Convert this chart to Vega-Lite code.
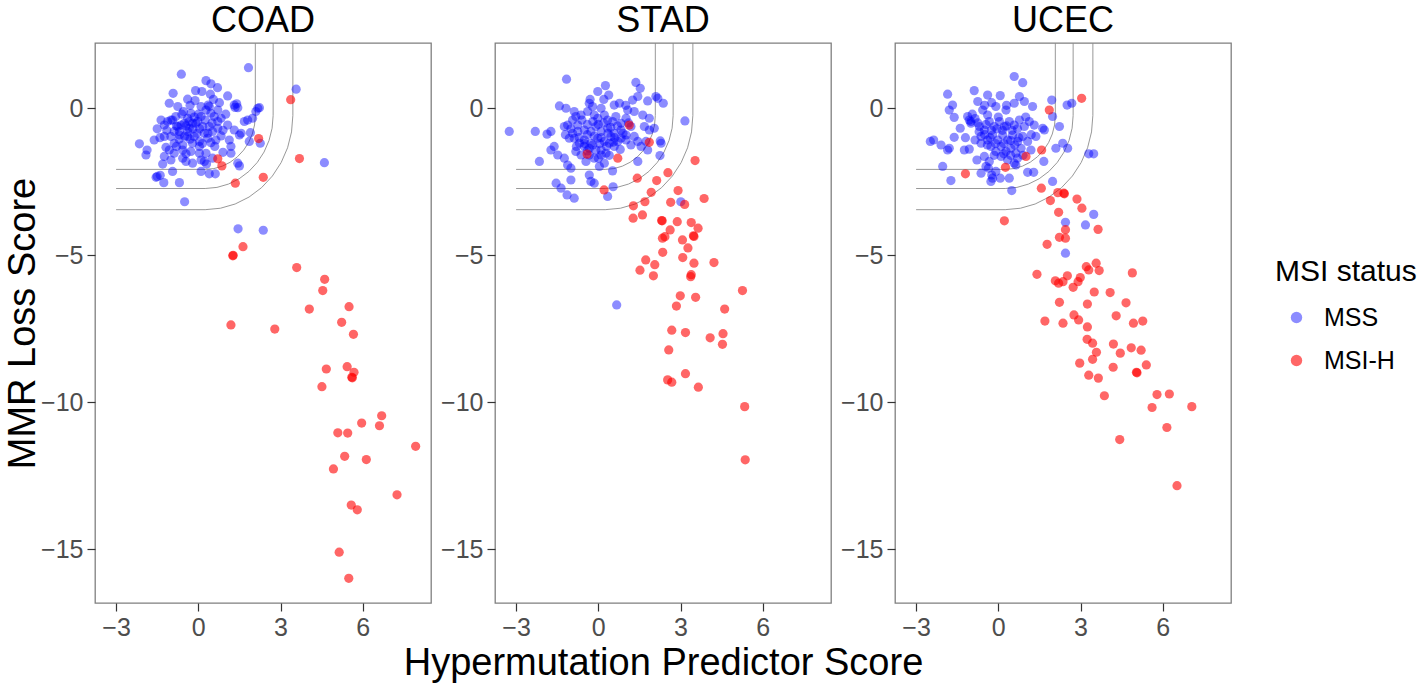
{
"$schema": "https://vega.github.io/schema/vega-lite/v6.json",
"autosize": {"type": "pad"},
"padding": {"left": 3, "top": 2, "right": 0, "bottom": 0},
"background": "white",
"bounds": "flush",
"spacing": 64,
"config": {
  "font": "Liberation Sans",
  "view": {"stroke": "#7F7F7F", "strokeWidth": 1.3},
  "axis": {"grid": false, "domain": false, "tickColor": "#333333", "tickSize": 8, "tickWidth": 1.2, "labelFontSize": 25, "labelColor": "#4D4D4D", "labelPadding": 4, "titleFontSize": 38, "titleFontWeight": "normal", "titleColor": "#000000"},
  "title": {"fontSize": 36, "fontWeight": "normal", "color": "#000000", "baseline": "alphabetic", "offset": 3, "anchor": "middle"},
  "legend": {"titleFontSize": 30, "titleFontWeight": "normal", "titleColor": "#000000", "labelFontSize": 25, "labelColor": "#000000", "symbolType": "circle", "symbolSize": 130, "rowPadding": 17, "titlePadding": 18, "labelOffset": 15, "symbolOffset": 9, "symbolStrokeWidth": 0}
},
"datasets": {
"curves": [
{"curve":1,"ord":0,"x":-3,"y":-2.08},{"curve":1,"ord":1,"x":0.25,"y":-2.08},{"curve":1,"ord":2,"x":0.568,"y":-2.052},{"curve":1,"ord":3,"x":0.876,"y":-1.97},{"curve":1,"ord":4,"x":1.165,"y":-1.835},{"curve":1,"ord":5,"x":1.426,"y":-1.652},{"curve":1,"ord":6,"x":1.652,"y":-1.426},{"curve":1,"ord":7,"x":1.835,"y":-1.165},{"curve":1,"ord":8,"x":1.97,"y":-0.876},{"curve":1,"ord":9,"x":2.052,"y":-0.568},{"curve":1,"ord":10,"x":2.08,"y":-0.25},{"curve":1,"ord":11,"x":2.08,"y":2.22},
{"curve":2,"ord":0,"x":-3,"y":-2.73},{"curve":2,"ord":1,"x":0.25,"y":-2.73},{"curve":2,"ord":2,"x":0.68,"y":-2.692},{"curve":2,"ord":3,"x":1.098,"y":-2.58},{"curve":2,"ord":4,"x":1.49,"y":-2.398},{"curve":2,"ord":5,"x":1.844,"y":-2.15},{"curve":2,"ord":6,"x":2.15,"y":-1.844},{"curve":2,"ord":7,"x":2.398,"y":-1.49},{"curve":2,"ord":8,"x":2.58,"y":-1.098},{"curve":2,"ord":9,"x":2.692,"y":-0.68},{"curve":2,"ord":10,"x":2.73,"y":-0.25},{"curve":2,"ord":11,"x":2.73,"y":2.22},
{"curve":3,"ord":0,"x":-3,"y":-3.45},{"curve":3,"ord":1,"x":0.25,"y":-3.45},{"curve":3,"ord":2,"x":0.806,"y":-3.401},{"curve":3,"ord":3,"x":1.344,"y":-3.257},{"curve":3,"ord":4,"x":1.85,"y":-3.021},{"curve":3,"ord":5,"x":2.307,"y":-2.701},{"curve":3,"ord":6,"x":2.701,"y":-2.307},{"curve":3,"ord":7,"x":3.021,"y":-1.85},{"curve":3,"ord":8,"x":3.257,"y":-1.344},{"curve":3,"ord":9,"x":3.401,"y":-0.806},{"curve":3,"ord":10,"x":3.45,"y":-0.25},{"curve":3,"ord":11,"x":3.45,"y":2.22}
],
"pts": [
{"panel":"COAD","status":"MSS","x":1.83,"y":1.38},{"panel":"COAD","status":"MSS","x":-0.62,"y":1.16},{"panel":"COAD","status":"MSS","x":3.57,"y":0.65},{"panel":"COAD","status":"MSS","x":2.26,"y":-1.19},{"panel":"COAD","status":"MSS","x":4.6,"y":-1.85},{"panel":"COAD","status":"MSS","x":-0.5,"y":-3.18},{"panel":"COAD","status":"MSS","x":1.45,"y":-4.1},{"panel":"COAD","status":"MSS","x":2.37,"y":-4.15},
{"panel":"COAD","status":"MSS","x":0.28,"y":0.94},{"panel":"COAD","status":"MSS","x":0.46,"y":0.83},{"panel":"COAD","status":"MSS","x":-0.92,"y":0.51},{"panel":"COAD","status":"MSS","x":0.13,"y":0.57},{"panel":"COAD","status":"MSS","x":0.44,"y":0.48},{"panel":"COAD","status":"MSS","x":1.07,"y":0.42},{"panel":"COAD","status":"MSS","x":-0.39,"y":0.31},{"panel":"COAD","status":"MSS","x":-0.12,"y":0.26},{"panel":"COAD","status":"MSS","x":-1.06,"y":0.17},{"panel":"COAD","status":"MSS","x":-0.75,"y":0.06},{"panel":"COAD","status":"MSS","x":0.36,"y":0.11},{"panel":"COAD","status":"MSS","x":0.1,"y":0.06},{"panel":"COAD","status":"MSS","x":0.77,"y":0.19},{"panel":"COAD","status":"MSS","x":1.31,"y":0.11},{"panel":"COAD","status":"MSS","x":1.44,"y":0.02},{"panel":"COAD","status":"MSS","x":2.17,"y":0.0},{"panel":"COAD","status":"MSS","x":2.1,"y":-0.11},{"panel":"COAD","status":"MSS","x":-0.54,"y":-0.11},{"panel":"COAD","status":"MSS","x":-0.27,"y":-0.17},{"panel":"COAD","status":"MSS","x":0.46,"y":-0.17},{"panel":"COAD","status":"MSS","x":0.71,"y":-0.06},{"panel":"COAD","status":"MSS","x":-1.36,"y":-0.4},{"panel":"COAD","status":"MSS","x":-1.24,"y":-0.57},{"panel":"COAD","status":"MSS","x":-1.0,"y":-0.4},{"panel":"COAD","status":"MSS","x":-0.82,"y":-0.28},{"panel":"COAD","status":"MSS","x":-0.63,"y":-0.57},{"panel":"COAD","status":"MSS","x":-0.33,"y":-0.45},{"panel":"COAD","status":"MSS","x":-0.09,"y":-0.51},{"panel":"COAD","status":"MSS","x":0.16,"y":-0.62},{"panel":"COAD","status":"MSS","x":0.4,"y":-0.62},{"panel":"COAD","status":"MSS","x":0.71,"y":-0.68},{"panel":"COAD","status":"MSS","x":1.07,"y":-0.57},{"panel":"COAD","status":"MSS","x":1.31,"y":-0.74},{"panel":"COAD","status":"MSS","x":1.56,"y":-0.85},{"panel":"COAD","status":"MSS","x":1.68,"y":-0.45},{"panel":"COAD","status":"MSS","x":1.8,"y":-0.4},{"panel":"COAD","status":"MSS","x":1.98,"y":-0.34},{"panel":"COAD","status":"MSS","x":1.9,"y":-0.83},{"panel":"COAD","status":"MSS","x":-1.61,"y":-1.08},{"panel":"COAD","status":"MSS","x":-2.15,"y":-1.21},{"panel":"COAD","status":"MSS","x":-1.87,"y":-1.42},{"panel":"COAD","status":"MSS","x":-1.91,"y":-1.59},{"panel":"COAD","status":"MSS","x":-1.24,"y":-0.96},{"panel":"COAD","status":"MSS","x":-1.18,"y":-1.33},{"panel":"COAD","status":"MSS","x":-0.88,"y":-1.19},{"panel":"COAD","status":"MSS","x":-0.69,"y":-0.91},{"panel":"COAD","status":"MSS","x":-0.57,"y":-1.25},{"panel":"COAD","status":"MSS","x":-0.39,"y":-0.96},{"panel":"COAD","status":"MSS","x":-0.21,"y":-1.19},{"panel":"COAD","status":"MSS","x":0.04,"y":-1.13},{"panel":"COAD","status":"MSS","x":0.04,"y":-1.3},{"panel":"COAD","status":"MSS","x":0.34,"y":-1.02},{"panel":"COAD","status":"MSS","x":0.46,"y":-1.17},{"panel":"COAD","status":"MSS","x":0.64,"y":-1.08},{"panel":"COAD","status":"MSS","x":0.83,"y":-0.94},{"panel":"COAD","status":"MSS","x":1.13,"y":-1.08},{"panel":"COAD","status":"MSS","x":1.19,"y":-1.3},{"panel":"COAD","status":"MSS","x":1.5,"y":-0.91},{"panel":"COAD","status":"MSS","x":1.86,"y":-1.13},{"panel":"COAD","status":"MSS","x":-1.24,"y":-1.64},{"panel":"COAD","status":"MSS","x":-1.0,"y":-1.76},{"panel":"COAD","status":"MSS","x":-0.88,"y":-1.53},{"panel":"COAD","status":"MSS","x":-0.57,"y":-1.7},{"panel":"COAD","status":"MSS","x":-0.45,"y":-1.81},{"panel":"COAD","status":"MSS","x":-0.21,"y":-1.87},{"panel":"COAD","status":"MSS","x":0.1,"y":-1.76},{"panel":"COAD","status":"MSS","x":0.28,"y":-1.53},{"panel":"COAD","status":"MSS","x":0.22,"y":-1.81},{"panel":"COAD","status":"MSS","x":0.52,"y":-1.7},{"panel":"COAD","status":"MSS","x":0.1,"y":-2.15},{"panel":"COAD","status":"MSS","x":0.4,"y":-2.23},{"panel":"COAD","status":"MSS","x":1.44,"y":-1.87},{"panel":"COAD","status":"MSS","x":1.5,"y":-1.96},{"panel":"COAD","status":"MSS","x":-1.5,"y":-2.32},{"panel":"COAD","status":"MSS","x":-1.39,"y":-2.28},{"panel":"COAD","status":"MSS","x":-1.26,"y":-2.53},{"panel":"COAD","status":"MSS","x":-0.94,"y":-2.15},{"panel":"COAD","status":"MSS","x":-0.69,"y":-2.53},{"panel":"COAD","status":"MSS","x":-1.12,"y":-0.45},{"panel":"COAD","status":"MSS","x":-0.94,"y":-0.4},{"panel":"COAD","status":"MSS","x":-0.75,"y":-0.62},{"panel":"COAD","status":"MSS","x":-0.51,"y":-0.51},{"panel":"COAD","status":"MSS","x":-0.39,"y":-0.34},{"panel":"COAD","status":"MSS","x":-0.21,"y":-0.51},{"panel":"COAD","status":"MSS","x":-0.02,"y":-0.45},{"panel":"COAD","status":"MSS","x":0.1,"y":-0.28},{"panel":"COAD","status":"MSS","x":0.28,"y":-0.06},{"panel":"COAD","status":"MSS","x":0.4,"y":0.06},{"panel":"COAD","status":"MSS","x":0.58,"y":-0.28},{"panel":"COAD","status":"MSS","x":0.71,"y":-0.45},{"panel":"COAD","status":"MSS","x":0.83,"y":-0.34},{"panel":"COAD","status":"MSS","x":-0.33,"y":-0.68},{"panel":"COAD","status":"MSS","x":-0.69,"y":-0.79},{"panel":"COAD","status":"MSS","x":-0.88,"y":-0.79},{"panel":"COAD","status":"MSS","x":-1.0,"y":-0.96},{"panel":"COAD","status":"MSS","x":-0.39,"y":-0.79},{"panel":"COAD","status":"MSS","x":-0.15,"y":-0.96},{"panel":"COAD","status":"MSS","x":0.22,"y":-0.85},{"panel":"COAD","status":"MSS","x":0.52,"y":-0.79},{"panel":"COAD","status":"MSS","x":-1.06,"y":-1.42},{"panel":"COAD","status":"MSS","x":-0.57,"y":-1.42},{"panel":"COAD","status":"MSS","x":-0.27,"y":-1.47},{"panel":"COAD","status":"MSS","x":0.04,"y":-1.53},{"panel":"COAD","status":"MSS","x":-1.54,"y":-2.35},{"panel":"COAD","status":"MSS","x":0.62,"y":-2.23},{"panel":"COAD","status":"MSS","x":1.19,"y":-1.53},{"panel":"COAD","status":"MSS","x":2.23,"y":0.02},{"panel":"COAD","status":"MSS","x":1.4,"y":0.15},{"panel":"COAD","status":"MSS","x":1.34,"y":0.03},
{"panel":"COAD","status":"MSS","x":-0.6,"y":-0.2},{"panel":"COAD","status":"MSS","x":-0.45,"y":-0.6},{"panel":"COAD","status":"MSS","x":-0.15,"y":-0.3},{"panel":"COAD","status":"MSS","x":0.05,"y":-0.7},{"panel":"COAD","status":"MSS","x":0.25,"y":-0.4},{"panel":"COAD","status":"MSS","x":0.5,"y":-0.5},{"panel":"COAD","status":"MSS","x":-0.8,"y":-0.6},{"panel":"COAD","status":"MSS","x":-0.3,"y":-1.05},{"panel":"COAD","status":"MSS","x":0.15,"y":-1.2},{"panel":"COAD","status":"MSS","x":0.6,"y":-1.3},{"panel":"COAD","status":"MSS","x":-0.7,"y":-1.05},{"panel":"COAD","status":"MSS","x":-1.15,"y":-0.75},{"panel":"COAD","status":"MSS","x":-0.05,"y":-0.85},{"panel":"COAD","status":"MSS","x":0.35,"y":-0.85},{"panel":"COAD","status":"MSS","x":0.9,"y":-0.75},{"panel":"COAD","status":"MSS","x":-0.5,"y":-0.95},{"panel":"COAD","status":"MSS","x":-0.2,"y":-0.7},{"panel":"COAD","status":"MSS","x":0.0,"y":-0.2},{"panel":"COAD","status":"MSS","x":-0.3,"y":0.1},{"panel":"COAD","status":"MSS","x":0.55,"y":0.3},{"panel":"COAD","status":"MSS","x":-0.8,"y":-1.3},{"panel":"COAD","status":"MSS","x":-0.45,"y":-1.55},{"panel":"COAD","status":"MSS","x":0.3,"y":-1.9},{"panel":"COAD","status":"MSS","x":-1.4,"y":-1.0},{"panel":"COAD","status":"MSS","x":-1.5,"y":-0.7},{"panel":"COAD","status":"MSS","x":0.9,"y":-1.5},{"panel":"COAD","status":"MSS","x":1.0,"y":-0.2},{"panel":"COAD","status":"MSS","x":-0.1,"y":0.6},{"panel":"COAD","status":"MSS","x":0.7,"y":0.7},{"panel":"COAD","status":"MSS","x":-1.3,"y":-1.9},
{"panel":"COAD","status":"MSI-H","x":3.37,"y":0.29},{"panel":"COAD","status":"MSI-H","x":2.2,"y":-1.03},{"panel":"COAD","status":"MSI-H","x":0.71,"y":-1.72},{"panel":"COAD","status":"MSI-H","x":0.86,"y":-1.96},{"panel":"COAD","status":"MSI-H","x":3.69,"y":-1.71},{"panel":"COAD","status":"MSI-H","x":1.35,"y":-2.55},{"panel":"COAD","status":"MSI-H","x":2.37,"y":-2.35},{"panel":"COAD","status":"MSI-H","x":1.63,"y":-4.71},{"panel":"COAD","status":"MSI-H","x":1.26,"y":-5.02},{"panel":"COAD","status":"MSI-H","x":1.27,"y":-5.0},{"panel":"COAD","status":"MSI-H","x":3.59,"y":-5.42},{"panel":"COAD","status":"MSI-H","x":4.61,"y":-5.82},{"panel":"COAD","status":"MSI-H","x":4.54,"y":-6.2},{"panel":"COAD","status":"MSI-H","x":4.05,"y":-6.83},{"panel":"COAD","status":"MSI-H","x":5.5,"y":-6.75},{"panel":"COAD","status":"MSI-H","x":5.23,"y":-7.28},{"panel":"COAD","status":"MSI-H","x":5.66,"y":-7.69},{"panel":"COAD","status":"MSI-H","x":1.19,"y":-7.37},{"panel":"COAD","status":"MSI-H","x":2.79,"y":-7.51},{"panel":"COAD","status":"MSI-H","x":4.67,"y":-8.87},{"panel":"COAD","status":"MSI-H","x":5.43,"y":-8.79},{"panel":"COAD","status":"MSI-H","x":5.68,"y":-8.98},{"panel":"COAD","status":"MSI-H","x":5.6,"y":-9.15},{"panel":"COAD","status":"MSI-H","x":5.62,"y":-9.17},{"panel":"COAD","status":"MSI-H","x":4.51,"y":-9.47},{"panel":"COAD","status":"MSI-H","x":6.69,"y":-10.46},{"panel":"COAD","status":"MSI-H","x":5.96,"y":-10.71},{"panel":"COAD","status":"MSI-H","x":6.61,"y":-10.8},{"panel":"COAD","status":"MSI-H","x":5.09,"y":-11.04},{"panel":"COAD","status":"MSI-H","x":5.45,"y":-11.05},{"panel":"COAD","status":"MSI-H","x":7.93,"y":-11.5},{"panel":"COAD","status":"MSI-H","x":5.34,"y":-11.84},{"panel":"COAD","status":"MSI-H","x":6.13,"y":-11.95},{"panel":"COAD","status":"MSI-H","x":4.93,"y":-12.27},{"panel":"COAD","status":"MSI-H","x":7.25,"y":-13.15},{"panel":"COAD","status":"MSI-H","x":5.58,"y":-13.5},{"panel":"COAD","status":"MSI-H","x":5.8,"y":-13.66},{"panel":"COAD","status":"MSI-H","x":5.14,"y":-15.1},{"panel":"COAD","status":"MSI-H","x":5.49,"y":-15.99},
{"panel":"STAD","status":"MSS","x":-1.16,"y":0.99},{"panel":"STAD","status":"MSS","x":0.26,"y":0.77},{"panel":"STAD","status":"MSS","x":-0.02,"y":0.57},{"panel":"STAD","status":"MSS","x":0.38,"y":0.45},{"panel":"STAD","status":"MSS","x":1.37,"y":0.88},{"panel":"STAD","status":"MSS","x":1.53,"y":0.68},{"panel":"STAD","status":"MSS","x":1.25,"y":0.28},{"panel":"STAD","status":"MSS","x":1.44,"y":0.4},{"panel":"STAD","status":"MSS","x":1.8,"y":0.25},{"panel":"STAD","status":"MSS","x":2.1,"y":0.4},{"panel":"STAD","status":"MSS","x":2.17,"y":0.34},{"panel":"STAD","status":"MSS","x":2.37,"y":0.17},{"panel":"STAD","status":"MSS","x":-1.42,"y":0.08},{"panel":"STAD","status":"MSS","x":-1.18,"y":0.0},{"panel":"STAD","status":"MSS","x":-0.88,"y":-0.11},{"panel":"STAD","status":"MSS","x":-0.33,"y":0.17},{"panel":"STAD","status":"MSS","x":-0.21,"y":0.06},{"panel":"STAD","status":"MSS","x":0.1,"y":0.0},{"panel":"STAD","status":"MSS","x":0.58,"y":0.11},{"panel":"STAD","status":"MSS","x":0.77,"y":0.17},{"panel":"STAD","status":"MSS","x":1.07,"y":-0.06},{"panel":"STAD","status":"MSS","x":1.31,"y":-0.11},{"panel":"STAD","status":"MSS","x":1.62,"y":-0.23},{"panel":"STAD","status":"MSS","x":1.86,"y":-0.34},{"panel":"STAD","status":"MSS","x":1.68,"y":-0.62},{"panel":"STAD","status":"MSS","x":1.86,"y":-0.74},{"panel":"STAD","status":"MSS","x":2.04,"y":-0.68},{"panel":"STAD","status":"MSS","x":2.26,"y":-1.11},{"panel":"STAD","status":"MSS","x":3.16,"y":-0.43},{"panel":"STAD","status":"MSS","x":-3.25,"y":-0.79},{"panel":"STAD","status":"MSS","x":-2.3,"y":-0.79},{"panel":"STAD","status":"MSS","x":-1.87,"y":-0.88},{"panel":"STAD","status":"MSS","x":-1.73,"y":-0.79},{"panel":"STAD","status":"MSS","x":-1.24,"y":-0.62},{"panel":"STAD","status":"MSS","x":-1.12,"y":-0.57},{"panel":"STAD","status":"MSS","x":-0.94,"y":-0.4},{"panel":"STAD","status":"MSS","x":-0.82,"y":-0.28},{"panel":"STAD","status":"MSS","x":-0.63,"y":-0.23},{"panel":"STAD","status":"MSS","x":-0.39,"y":-0.11},{"panel":"STAD","status":"MSS","x":-0.15,"y":-0.23},{"panel":"STAD","status":"MSS","x":-0.02,"y":-0.34},{"panel":"STAD","status":"MSS","x":0.22,"y":-0.23},{"panel":"STAD","status":"MSS","x":0.34,"y":-0.4},{"panel":"STAD","status":"MSS","x":0.52,"y":-0.45},{"panel":"STAD","status":"MSS","x":0.64,"y":-0.28},{"panel":"STAD","status":"MSS","x":0.83,"y":-0.51},{"panel":"STAD","status":"MSS","x":1.01,"y":-0.34},{"panel":"STAD","status":"MSS","x":1.19,"y":-0.62},{"panel":"STAD","status":"MSS","x":1.31,"y":-0.96},{"panel":"STAD","status":"MSS","x":1.44,"y":-1.13},{"panel":"STAD","status":"MSS","x":1.56,"y":-1.3},{"panel":"STAD","status":"MSS","x":-1.73,"y":-1.42},{"panel":"STAD","status":"MSS","x":-1.61,"y":-1.3},{"panel":"STAD","status":"MSS","x":-2.15,"y":-1.81},{"panel":"STAD","status":"MSS","x":-1.48,"y":-1.59},{"panel":"STAD","status":"MSS","x":-1.24,"y":-1.7},{"panel":"STAD","status":"MSS","x":-1.12,"y":-1.93},{"panel":"STAD","status":"MSS","x":-1.0,"y":-2.04},{"panel":"STAD","status":"MSS","x":-0.88,"y":-1.02},{"panel":"STAD","status":"MSS","x":-0.69,"y":-1.19},{"panel":"STAD","status":"MSS","x":-0.51,"y":-1.3},{"panel":"STAD","status":"MSS","x":-0.82,"y":-1.47},{"panel":"STAD","status":"MSS","x":-0.45,"y":-1.81},{"panel":"STAD","status":"MSS","x":-0.33,"y":-1.59},{"panel":"STAD","status":"MSS","x":-0.15,"y":-1.7},{"panel":"STAD","status":"MSS","x":0.1,"y":-1.42},{"panel":"STAD","status":"MSS","x":0.28,"y":-1.53},{"panel":"STAD","status":"MSS","x":0.04,"y":-1.98},{"panel":"STAD","status":"MSS","x":0.22,"y":-1.87},{"panel":"STAD","status":"MSS","x":0.52,"y":-2.13},{"panel":"STAD","status":"MSS","x":0.4,"y":-1.19},{"panel":"STAD","status":"MSS","x":0.58,"y":-1.3},{"panel":"STAD","status":"MSS","x":0.83,"y":-1.02},{"panel":"STAD","status":"MSS","x":1.01,"y":-1.08},{"panel":"STAD","status":"MSS","x":1.19,"y":-1.25},{"panel":"STAD","status":"MSS","x":1.44,"y":-1.81},{"panel":"STAD","status":"MSS","x":1.8,"y":-1.42},{"panel":"STAD","status":"MSS","x":1.74,"y":-1.13},{"panel":"STAD","status":"MSS","x":2.25,"y":-1.61},{"panel":"STAD","status":"MSS","x":2.29,"y":-1.19},{"panel":"STAD","status":"MSS","x":-1.54,"y":-2.55},{"panel":"STAD","status":"MSS","x":-1.36,"y":-2.72},{"panel":"STAD","status":"MSS","x":-1.14,"y":-2.95},{"panel":"STAD","status":"MSS","x":-0.88,"y":-3.06},{"panel":"STAD","status":"MSS","x":-1.0,"y":-2.44},{"panel":"STAD","status":"MSS","x":-0.33,"y":-2.27},{"panel":"STAD","status":"MSS","x":-0.27,"y":-2.49},{"panel":"STAD","status":"MSS","x":-0.15,"y":-2.55},{"panel":"STAD","status":"MSS","x":0.34,"y":-3.0},{"panel":"STAD","status":"MSS","x":0.54,"y":-2.67},{"panel":"STAD","status":"MSS","x":3.01,"y":-3.18},{"panel":"STAD","status":"MSS","x":0.67,"y":-6.69},{"panel":"STAD","status":"MSS","x":-0.75,"y":-0.57},{"panel":"STAD","status":"MSS","x":-0.51,"y":-0.74},{"panel":"STAD","status":"MSS","x":-0.27,"y":-0.79},{"panel":"STAD","status":"MSS","x":-0.09,"y":-0.62},{"panel":"STAD","status":"MSS","x":0.1,"y":-0.79},{"panel":"STAD","status":"MSS","x":0.34,"y":-0.68},{"panel":"STAD","status":"MSS","x":0.58,"y":-0.85},{"panel":"STAD","status":"MSS","x":0.83,"y":-0.74},{"panel":"STAD","status":"MSS","x":1.01,"y":-0.91},{"panel":"STAD","status":"MSS","x":-0.51,"y":-1.08},{"panel":"STAD","status":"MSS","x":-0.27,"y":-1.19},{"panel":"STAD","status":"MSS","x":-0.02,"y":-1.02},{"panel":"STAD","status":"MSS","x":0.22,"y":-1.13},{"panel":"STAD","status":"MSS","x":0.46,"y":-0.96},{"panel":"STAD","status":"MSS","x":0.71,"y":-1.13},{"panel":"STAD","status":"MSS","x":-0.33,"y":-1.36},{"panel":"STAD","status":"MSS","x":-0.09,"y":-1.42},{"panel":"STAD","status":"MSS","x":0.1,"y":-1.59},{"panel":"STAD","status":"MSS","x":-0.63,"y":-1.59},{"panel":"STAD","status":"MSS","x":-0.75,"y":-0.79},{"panel":"STAD","status":"MSS","x":-0.94,"y":-0.85},{"panel":"STAD","status":"MSS","x":-1.06,"y":-1.02},
{"panel":"STAD","status":"MSS","x":-0.6,"y":-0.4},{"panel":"STAD","status":"MSS","x":-0.4,"y":-0.55},{"panel":"STAD","status":"MSS","x":-0.2,"y":-0.45},{"panel":"STAD","status":"MSS","x":0.0,"y":-0.55},{"panel":"STAD","status":"MSS","x":0.2,"y":-0.5},{"panel":"STAD","status":"MSS","x":0.45,"y":-0.65},{"panel":"STAD","status":"MSS","x":0.7,"y":-0.6},{"panel":"STAD","status":"MSS","x":-0.7,"y":-1.0},{"panel":"STAD","status":"MSS","x":-0.4,"y":-0.9},{"panel":"STAD","status":"MSS","x":-0.15,"y":-0.95},{"panel":"STAD","status":"MSS","x":0.1,"y":-1.0},{"panel":"STAD","status":"MSS","x":0.35,"y":-0.85},{"panel":"STAD","status":"MSS","x":0.6,"y":-1.0},{"panel":"STAD","status":"MSS","x":0.9,"y":-0.85},{"panel":"STAD","status":"MSS","x":-0.5,"y":-1.2},{"panel":"STAD","status":"MSS","x":-0.2,"y":-1.25},{"panel":"STAD","status":"MSS","x":0.05,"y":-1.2},{"panel":"STAD","status":"MSS","x":0.3,"y":-1.3},{"panel":"STAD","status":"MSS","x":0.55,"y":-1.15},{"panel":"STAD","status":"MSS","x":-0.8,"y":-1.3},{"panel":"STAD","status":"MSS","x":-1.0,"y":-0.7},{"panel":"STAD","status":"MSS","x":-1.2,"y":-0.9},{"panel":"STAD","status":"MSS","x":0.0,"y":-1.7},{"panel":"STAD","status":"MSS","x":0.4,"y":-1.6},{"panel":"STAD","status":"MSS","x":-0.4,"y":-1.45},{"panel":"STAD","status":"MSS","x":0.8,"y":-1.4},{"panel":"STAD","status":"MSS","x":1.1,"y":-0.5},{"panel":"STAD","status":"MSS","x":-0.3,"y":0.3},{"panel":"STAD","status":"MSS","x":0.2,"y":0.3},{"panel":"STAD","status":"MSS","x":1.0,"y":0.1},
{"panel":"STAD","status":"MSI-H","x":1.13,"y":-0.57},{"panel":"STAD","status":"MSI-H","x":1.86,"y":-1.16},{"panel":"STAD","status":"MSI-H","x":-0.41,"y":-1.56},{"panel":"STAD","status":"MSI-H","x":0.71,"y":-1.7},{"panel":"STAD","status":"MSI-H","x":0.21,"y":-2.78},{"panel":"STAD","status":"MSI-H","x":3.53,"y":-1.78},{"panel":"STAD","status":"MSI-H","x":2.54,"y":-2.19},{"panel":"STAD","status":"MSI-H","x":1.42,"y":-2.38},{"panel":"STAD","status":"MSI-H","x":2.13,"y":-2.46},{"panel":"STAD","status":"MSI-H","x":1.93,"y":-2.86},{"panel":"STAD","status":"MSI-H","x":2.91,"y":-2.8},{"panel":"STAD","status":"MSI-H","x":3.86,"y":-3.07},{"panel":"STAD","status":"MSI-H","x":1.7,"y":-3.18},{"panel":"STAD","status":"MSI-H","x":2.64,"y":-3.2},{"panel":"STAD","status":"MSI-H","x":3.15,"y":-3.27},{"panel":"STAD","status":"MSI-H","x":1.28,"y":-3.32},{"panel":"STAD","status":"MSI-H","x":1.27,"y":-3.74},{"panel":"STAD","status":"MSI-H","x":1.61,"y":-3.63},{"panel":"STAD","status":"MSI-H","x":2.31,"y":-3.82},{"panel":"STAD","status":"MSI-H","x":2.33,"y":-3.83},{"panel":"STAD","status":"MSI-H","x":2.88,"y":-3.86},{"panel":"STAD","status":"MSI-H","x":3.39,"y":-3.89},{"panel":"STAD","status":"MSI-H","x":3.64,"y":-4.08},{"panel":"STAD","status":"MSI-H","x":2.62,"y":-4.14},{"panel":"STAD","status":"MSI-H","x":2.43,"y":-4.37},{"panel":"STAD","status":"MSI-H","x":2.34,"y":-4.42},{"panel":"STAD","status":"MSI-H","x":3.47,"y":-4.34},{"panel":"STAD","status":"MSI-H","x":3.49,"y":-4.36},{"panel":"STAD","status":"MSI-H","x":3.07,"y":-4.48},{"panel":"STAD","status":"MSI-H","x":3.27,"y":-4.75},{"panel":"STAD","status":"MSI-H","x":2.35,"y":-4.9},{"panel":"STAD","status":"MSI-H","x":1.73,"y":-5.16},{"panel":"STAD","status":"MSI-H","x":2.06,"y":-5.32},{"panel":"STAD","status":"MSI-H","x":1.52,"y":-5.51},{"panel":"STAD","status":"MSI-H","x":2.01,"y":-5.7},{"panel":"STAD","status":"MSI-H","x":3.08,"y":-5.08},{"panel":"STAD","status":"MSI-H","x":3.49,"y":-5.27},{"panel":"STAD","status":"MSI-H","x":4.22,"y":-5.25},{"panel":"STAD","status":"MSI-H","x":3.39,"y":-5.66},{"panel":"STAD","status":"MSI-H","x":3.37,"y":-5.73},{"panel":"STAD","status":"MSI-H","x":5.26,"y":-6.2},{"panel":"STAD","status":"MSI-H","x":2.99,"y":-6.38},{"panel":"STAD","status":"MSI-H","x":3.55,"y":-6.43},{"panel":"STAD","status":"MSI-H","x":2.85,"y":-6.73},{"panel":"STAD","status":"MSI-H","x":4.61,"y":-6.83},{"panel":"STAD","status":"MSI-H","x":2.68,"y":-7.55},{"panel":"STAD","status":"MSI-H","x":3.18,"y":-7.63},{"panel":"STAD","status":"MSI-H","x":4.55,"y":-7.67},{"panel":"STAD","status":"MSI-H","x":4.08,"y":-7.81},{"panel":"STAD","status":"MSI-H","x":4.53,"y":-8.03},{"panel":"STAD","status":"MSI-H","x":2.57,"y":-8.22},{"panel":"STAD","status":"MSI-H","x":3.18,"y":-9.03},{"panel":"STAD","status":"MSI-H","x":2.53,"y":-9.24},{"panel":"STAD","status":"MSI-H","x":2.68,"y":-9.32},{"panel":"STAD","status":"MSI-H","x":3.65,"y":-9.49},{"panel":"STAD","status":"MSI-H","x":5.34,"y":-10.15},{"panel":"STAD","status":"MSI-H","x":5.36,"y":-11.96},
{"panel":"UCEC","status":"MSS","x":0.58,"y":1.08},{"panel":"UCEC","status":"MSS","x":0.89,"y":0.87},{"panel":"UCEC","status":"MSS","x":-1.85,"y":0.48},{"panel":"UCEC","status":"MSS","x":-0.88,"y":0.6},{"panel":"UCEC","status":"MSS","x":-0.39,"y":0.45},{"panel":"UCEC","status":"MSS","x":0.07,"y":0.43},{"panel":"UCEC","status":"MSS","x":-1.67,"y":0.11},{"panel":"UCEC","status":"MSS","x":-1.79,"y":-0.06},{"panel":"UCEC","status":"MSS","x":-0.75,"y":0.23},{"panel":"UCEC","status":"MSS","x":-0.24,"y":0.19},{"panel":"UCEC","status":"MSS","x":-0.09,"y":0.06},{"panel":"UCEC","status":"MSS","x":0.28,"y":-0.06},{"panel":"UCEC","status":"MSS","x":0.58,"y":0.17},{"panel":"UCEC","status":"MSS","x":0.77,"y":0.4},{"panel":"UCEC","status":"MSS","x":0.95,"y":0.23},{"panel":"UCEC","status":"MSS","x":1.25,"y":0.06},{"panel":"UCEC","status":"MSS","x":1.95,"y":0.28},{"panel":"UCEC","status":"MSS","x":2.51,"y":0.11},{"panel":"UCEC","status":"MSS","x":2.68,"y":0.17},{"panel":"UCEC","status":"MSS","x":-1.61,"y":-0.31},{"panel":"UCEC","status":"MSS","x":-1.12,"y":-0.28},{"panel":"UCEC","status":"MSS","x":-1.0,"y":-0.45},{"panel":"UCEC","status":"MSS","x":-0.57,"y":-0.06},{"panel":"UCEC","status":"MSS","x":-0.39,"y":-0.23},{"panel":"UCEC","status":"MSS","x":-1.39,"y":-0.68},{"panel":"UCEC","status":"MSS","x":-0.85,"y":-1.08},{"panel":"UCEC","status":"MSS","x":-0.63,"y":-1.19},{"panel":"UCEC","status":"MSS","x":-2.48,"y":-1.13},{"panel":"UCEC","status":"MSS","x":-2.36,"y":-1.08},{"panel":"UCEC","status":"MSS","x":-2.09,"y":-1.25},{"panel":"UCEC","status":"MSS","x":-1.79,"y":-1.36},{"panel":"UCEC","status":"MSS","x":-1.85,"y":-1.42},{"panel":"UCEC","status":"MSS","x":-1.61,"y":-0.99},{"panel":"UCEC","status":"MSS","x":-1.24,"y":-1.42},{"panel":"UCEC","status":"MSS","x":-1.06,"y":-1.39},{"panel":"UCEC","status":"MSS","x":1.13,"y":-0.45},{"panel":"UCEC","status":"MSS","x":1.31,"y":-0.57},{"panel":"UCEC","status":"MSS","x":1.37,"y":-0.96},{"panel":"UCEC","status":"MSS","x":1.62,"y":-0.68},{"panel":"UCEC","status":"MSS","x":1.68,"y":-0.74},{"panel":"UCEC","status":"MSS","x":1.98,"y":-0.28},{"panel":"UCEC","status":"MSS","x":2.23,"y":-0.62},{"panel":"UCEC","status":"MSS","x":2.1,"y":-1.36},{"panel":"UCEC","status":"MSS","x":2.35,"y":-1.19},{"panel":"UCEC","status":"MSS","x":2.53,"y":-1.36},{"panel":"UCEC","status":"MSS","x":1.19,"y":-1.42},{"panel":"UCEC","status":"MSS","x":1.66,"y":-1.81},{"panel":"UCEC","status":"MSS","x":1.98,"y":-2.49},{"panel":"UCEC","status":"MSS","x":1.07,"y":-2.18},{"panel":"UCEC","status":"MSS","x":1.29,"y":-2.18},{"panel":"UCEC","status":"MSS","x":-2.03,"y":-1.98},{"panel":"UCEC","status":"MSS","x":-1.73,"y":-2.46},{"panel":"UCEC","status":"MSS","x":-0.78,"y":-1.76},{"panel":"UCEC","status":"MSS","x":-0.63,"y":-2.21},{"panel":"UCEC","status":"MSS","x":-0.36,"y":-2.04},{"panel":"UCEC","status":"MSS","x":-0.24,"y":-2.27},{"panel":"UCEC","status":"MSS","x":-0.09,"y":-2.15},{"panel":"UCEC","status":"MSS","x":0.07,"y":-2.38},{"panel":"UCEC","status":"MSS","x":0.4,"y":-2.38},{"panel":"UCEC","status":"MSS","x":0.49,"y":-2.8},{"panel":"UCEC","status":"MSS","x":0.64,"y":-1.93},{"panel":"UCEC","status":"MSS","x":3.3,"y":-1.55},{"panel":"UCEC","status":"MSS","x":3.48,"y":-1.55},{"panel":"UCEC","status":"MSS","x":2.45,"y":-3.88},{"panel":"UCEC","status":"MSS","x":3.18,"y":-3.97},{"panel":"UCEC","status":"MSS","x":3.48,"y":-3.61},{"panel":"UCEC","status":"MSS","x":2.45,"y":-4.93},{"panel":"UCEC","status":"MSS","x":-1.06,"y":-0.4},{"panel":"UCEC","status":"MSS","x":-1.0,"y":-0.51},{"panel":"UCEC","status":"MSS","x":-0.69,"y":-0.62},{"panel":"UCEC","status":"MSS","x":-0.51,"y":-0.74},{"panel":"UCEC","status":"MSS","x":-0.33,"y":-0.45},{"panel":"UCEC","status":"MSS","x":-0.15,"y":-0.62},{"panel":"UCEC","status":"MSS","x":0.04,"y":-0.45},{"panel":"UCEC","status":"MSS","x":0.22,"y":-0.62},{"panel":"UCEC","status":"MSS","x":0.4,"y":-0.45},{"panel":"UCEC","status":"MSS","x":0.58,"y":-0.57},{"panel":"UCEC","status":"MSS","x":0.77,"y":-0.4},{"panel":"UCEC","status":"MSS","x":0.95,"y":-0.62},{"panel":"UCEC","status":"MSS","x":-0.63,"y":-0.96},{"panel":"UCEC","status":"MSS","x":-0.39,"y":-1.08},{"panel":"UCEC","status":"MSS","x":-0.21,"y":-0.91},{"panel":"UCEC","status":"MSS","x":-0.02,"y":-1.08},{"panel":"UCEC","status":"MSS","x":0.16,"y":-0.91},{"panel":"UCEC","status":"MSS","x":0.34,"y":-1.08},{"panel":"UCEC","status":"MSS","x":0.52,"y":-0.91},{"panel":"UCEC","status":"MSS","x":0.71,"y":-1.13},{"panel":"UCEC","status":"MSS","x":0.89,"y":-0.96},{"panel":"UCEC","status":"MSS","x":1.07,"y":-1.13},{"panel":"UCEC","status":"MSS","x":-0.27,"y":-1.3},{"panel":"UCEC","status":"MSS","x":-0.09,"y":-1.47},{"panel":"UCEC","status":"MSS","x":0.1,"y":-1.3},{"panel":"UCEC","status":"MSS","x":0.28,"y":-1.47},{"panel":"UCEC","status":"MSS","x":0.46,"y":-1.36},{"panel":"UCEC","status":"MSS","x":0.64,"y":-1.53},{"panel":"UCEC","status":"MSS","x":0.83,"y":-1.36},{"panel":"UCEC","status":"MSS","x":0.1,"y":-1.64},{"panel":"UCEC","status":"MSS","x":0.34,"y":-1.76},{"panel":"UCEC","status":"MSS","x":0.58,"y":-1.87},{"panel":"UCEC","status":"MSS","x":-0.51,"y":-1.64},{"panel":"UCEC","status":"MSS","x":-0.33,"y":-1.81},{"panel":"UCEC","status":"MSS","x":-0.45,"y":-1.98},{"panel":"UCEC","status":"MSS","x":-0.21,"y":-2.38},{"panel":"UCEC","status":"MSS","x":-0.27,"y":-2.49},
{"panel":"UCEC","status":"MSS","x":-0.85,"y":-0.35},{"panel":"UCEC","status":"MSS","x":-0.75,"y":-0.5},{"panel":"UCEC","status":"MSS","x":-0.45,"y":-0.55},{"panel":"UCEC","status":"MSS","x":-0.25,"y":-0.75},{"panel":"UCEC","status":"MSS","x":-0.05,"y":-0.7},{"panel":"UCEC","status":"MSS","x":0.15,"y":-0.75},{"panel":"UCEC","status":"MSS","x":0.3,"y":-0.6},{"panel":"UCEC","status":"MSS","x":0.5,"y":-0.75},{"panel":"UCEC","status":"MSS","x":0.7,"y":-0.7},{"panel":"UCEC","status":"MSS","x":-0.5,"y":-0.9},{"panel":"UCEC","status":"MSS","x":-0.3,"y":-1.0},{"panel":"UCEC","status":"MSS","x":-0.1,"y":-1.2},{"panel":"UCEC","status":"MSS","x":0.2,"y":-1.2},{"panel":"UCEC","status":"MSS","x":0.45,"y":-1.1},{"panel":"UCEC","status":"MSS","x":0.6,"y":-1.25},{"panel":"UCEC","status":"MSS","x":0.75,"y":-1.0},{"panel":"UCEC","status":"MSS","x":-0.15,"y":-1.6},{"panel":"UCEC","status":"MSS","x":0.2,"y":-1.55},{"panel":"UCEC","status":"MSS","x":0.45,"y":-1.6},{"panel":"UCEC","status":"MSS","x":0.7,"y":-1.7},{"panel":"UCEC","status":"MSS","x":-0.4,"y":-1.25},{"panel":"UCEC","status":"MSS","x":-0.7,"y":-0.8},{"panel":"UCEC","status":"MSS","x":-0.95,"y":-0.2},{"panel":"UCEC","status":"MSS","x":1.0,"y":-0.3},{"panel":"UCEC","status":"MSS","x":1.2,"y":-0.9},{"panel":"UCEC","status":"MSS","x":-1.2,"y":-1.0},{"panel":"UCEC","status":"MSS","x":0.0,"y":-0.3},{"panel":"UCEC","status":"MSS","x":0.3,"y":0.1},{"panel":"UCEC","status":"MSS","x":-0.5,"y":0.1},{"panel":"UCEC","status":"MSS","x":0.9,"y":-1.6},
{"panel":"UCEC","status":"MSI-H","x":1.86,"y":-0.06},{"panel":"UCEC","status":"MSI-H","x":3.04,"y":0.34},{"panel":"UCEC","status":"MSI-H","x":1.58,"y":-1.42},{"panel":"UCEC","status":"MSI-H","x":1.01,"y":-1.64},{"panel":"UCEC","status":"MSI-H","x":0.26,"y":-2.01},{"panel":"UCEC","status":"MSI-H","x":-1.2,"y":-2.23},{"panel":"UCEC","status":"MSI-H","x":1.57,"y":-2.72},{"panel":"UCEC","status":"MSI-H","x":2.39,"y":-2.89},{"panel":"UCEC","status":"MSI-H","x":2.41,"y":-2.91},{"panel":"UCEC","status":"MSI-H","x":2.17,"y":-2.87},{"panel":"UCEC","status":"MSI-H","x":1.9,"y":-3.14},{"panel":"UCEC","status":"MSI-H","x":2.87,"y":-3.09},{"panel":"UCEC","status":"MSI-H","x":3.05,"y":-3.4},{"panel":"UCEC","status":"MSI-H","x":2.2,"y":-3.54},{"panel":"UCEC","status":"MSI-H","x":0.22,"y":-3.83},{"panel":"UCEC","status":"MSI-H","x":3.64,"y":-4.12},{"panel":"UCEC","status":"MSI-H","x":2.45,"y":-4.13},{"panel":"UCEC","status":"MSI-H","x":2.23,"y":-4.39},{"panel":"UCEC","status":"MSI-H","x":2.45,"y":-4.42},{"panel":"UCEC","status":"MSI-H","x":1.78,"y":-4.63},{"panel":"UCEC","status":"MSI-H","x":1.41,"y":-5.65},{"panel":"UCEC","status":"MSI-H","x":2.08,"y":-5.87},{"panel":"UCEC","status":"MSI-H","x":2.2,"y":-5.95},{"panel":"UCEC","status":"MSI-H","x":2.36,"y":-5.9},{"panel":"UCEC","status":"MSI-H","x":2.52,"y":-5.7},{"panel":"UCEC","status":"MSI-H","x":2.73,"y":-6.09},{"panel":"UCEC","status":"MSI-H","x":2.91,"y":-5.9},{"panel":"UCEC","status":"MSI-H","x":2.99,"y":-5.76},{"panel":"UCEC","status":"MSI-H","x":3.21,"y":-5.39},{"panel":"UCEC","status":"MSI-H","x":3.3,"y":-5.5},{"panel":"UCEC","status":"MSI-H","x":3.57,"y":-5.27},{"panel":"UCEC","status":"MSI-H","x":3.68,"y":-5.52},{"panel":"UCEC","status":"MSI-H","x":4.89,"y":-5.6},{"panel":"UCEC","status":"MSI-H","x":3.5,"y":-6.25},{"panel":"UCEC","status":"MSI-H","x":4.08,"y":-6.27},{"panel":"UCEC","status":"MSI-H","x":2.23,"y":-6.6},{"panel":"UCEC","status":"MSI-H","x":3.25,"y":-6.66},{"panel":"UCEC","status":"MSI-H","x":4.66,"y":-6.62},{"panel":"UCEC","status":"MSI-H","x":2.76,"y":-7.03},{"panel":"UCEC","status":"MSI-H","x":2.93,"y":-7.2},{"panel":"UCEC","status":"MSI-H","x":4.3,"y":-7.06},{"panel":"UCEC","status":"MSI-H","x":1.7,"y":-7.24},{"panel":"UCEC","status":"MSI-H","x":2.36,"y":-7.31},{"panel":"UCEC","status":"MSI-H","x":3.25,"y":-7.44},{"panel":"UCEC","status":"MSI-H","x":4.93,"y":-7.31},{"panel":"UCEC","status":"MSI-H","x":5.27,"y":-7.24},{"panel":"UCEC","status":"MSI-H","x":3.24,"y":-7.86},{"panel":"UCEC","status":"MSI-H","x":3.44,"y":-7.99},{"panel":"UCEC","status":"MSI-H","x":3.58,"y":-8.3},{"panel":"UCEC","status":"MSI-H","x":3.44,"y":-8.54},{"panel":"UCEC","status":"MSI-H","x":4.2,"y":-8.02},{"panel":"UCEC","status":"MSI-H","x":4.45,"y":-8.33},{"panel":"UCEC","status":"MSI-H","x":4.85,"y":-8.15},{"panel":"UCEC","status":"MSI-H","x":5.21,"y":-8.23},{"panel":"UCEC","status":"MSI-H","x":2.97,"y":-8.67},{"panel":"UCEC","status":"MSI-H","x":4.19,"y":-8.81},{"panel":"UCEC","status":"MSI-H","x":5.4,"y":-8.73},{"panel":"UCEC","status":"MSI-H","x":5.04,"y":-8.98},{"panel":"UCEC","status":"MSI-H","x":5.06,"y":-9.0},{"panel":"UCEC","status":"MSI-H","x":3.3,"y":-9.08},{"panel":"UCEC","status":"MSI-H","x":3.65,"y":-9.18},{"panel":"UCEC","status":"MSI-H","x":3.87,"y":-9.78},{"panel":"UCEC","status":"MSI-H","x":5.79,"y":-9.74},{"panel":"UCEC","status":"MSI-H","x":6.24,"y":-9.72},{"panel":"UCEC","status":"MSI-H","x":5.61,"y":-10.18},{"panel":"UCEC","status":"MSI-H","x":7.06,"y":-10.15},{"panel":"UCEC","status":"MSI-H","x":6.15,"y":-10.86},{"panel":"UCEC","status":"MSI-H","x":4.43,"y":-11.27},{"panel":"UCEC","status":"MSI-H","x":6.52,"y":-12.84}
]
},
"hconcat": [
{
 "width": 336, "height": 560,
 "title": {"text": "COAD"},
 "layer": [
  {"data": {"name": "curves"}, "mark": {"type": "line", "color": "#8C8C8C", "strokeWidth": 0.9, "clip": true},
   "encoding": {"x": {"field": "x", "type": "quantitative", "scale": {"domain": [-3.77, 8.49], "nice": false, "zero": false}, "axis": {"values": [-3, 0, 3, 6], "title": null}},
                "y": {"field": "y", "type": "quantitative", "scale": {"domain": [-16.83, 2.22], "nice": false, "zero": false}, "axis": {"values": [-15, -10, -5, 0], "title": "MMR Loss Score", "titlePadding": -2}},
                "detail": {"field": "curve", "type": "nominal"}, "order": {"field": "ord", "type": "quantitative"}}},
  {"data": {"name": "pts"}, "transform": [{"filter": "datum.panel === 'COAD'"}], "mark": {"type": "circle", "size": 85, "opacity": 1, "strokeWidth": 0, "clip": true},
   "encoding": {"x": {"field": "x", "type": "quantitative"}, "y": {"field": "y", "type": "quantitative"},
                "color": {"field": "status", "type": "nominal", "scale": {"domain": ["MSS", "MSI-H"], "range": ["rgba(0,0,255,0.45)", "rgba(255,0,0,0.6)"]}, "legend": {"title": "MSI status", "orient": "none", "legendX": 1180, "legendY": 214}}}}
 ]
},
{
 "width": 336, "height": 560,
 "title": {"text": "STAD"},
 "layer": [
  {"data": {"name": "curves"}, "mark": {"type": "line", "color": "#8C8C8C", "strokeWidth": 0.9, "clip": true},
   "encoding": {"x": {"field": "x", "type": "quantitative", "scale": {"domain": [-3.77, 8.49], "nice": false, "zero": false}, "axis": {"values": [-3, 0, 3, 6], "title": "Hypermutation Predictor Score", "titlePadding": 4}},
                "y": {"field": "y", "type": "quantitative", "scale": {"domain": [-16.83, 2.22], "nice": false, "zero": false}, "axis": {"values": [-15, -10, -5, 0], "title": null}},
                "detail": {"field": "curve", "type": "nominal"}, "order": {"field": "ord", "type": "quantitative"}}},
  {"data": {"name": "pts"}, "transform": [{"filter": "datum.panel === 'STAD'"}], "mark": {"type": "circle", "size": 85, "opacity": 1, "strokeWidth": 0, "clip": true},
   "encoding": {"x": {"field": "x", "type": "quantitative"}, "y": {"field": "y", "type": "quantitative"},
                "color": {"field": "status", "type": "nominal", "scale": {"domain": ["MSS", "MSI-H"], "range": ["rgba(0,0,255,0.45)", "rgba(255,0,0,0.6)"]}, "legend": {"title": "MSI status", "orient": "none", "legendX": 1180, "legendY": 214}}}}
 ]
},
{
 "width": 336, "height": 560,
 "title": {"text": "UCEC"},
 "layer": [
  {"data": {"name": "curves"}, "mark": {"type": "line", "color": "#8C8C8C", "strokeWidth": 0.9, "clip": true},
   "encoding": {"x": {"field": "x", "type": "quantitative", "scale": {"domain": [-3.77, 8.49], "nice": false, "zero": false}, "axis": {"values": [-3, 0, 3, 6], "title": null}},
                "y": {"field": "y", "type": "quantitative", "scale": {"domain": [-16.83, 2.22], "nice": false, "zero": false}, "axis": {"values": [-15, -10, -5, 0], "title": null}},
                "detail": {"field": "curve", "type": "nominal"}, "order": {"field": "ord", "type": "quantitative"}}},
  {"data": {"name": "pts"}, "transform": [{"filter": "datum.panel === 'UCEC'"}], "mark": {"type": "circle", "size": 85, "opacity": 1, "strokeWidth": 0, "clip": true},
   "encoding": {"x": {"field": "x", "type": "quantitative"}, "y": {"field": "y", "type": "quantitative"},
                "color": {"field": "status", "type": "nominal", "scale": {"domain": ["MSS", "MSI-H"], "range": ["rgba(0,0,255,0.45)", "rgba(255,0,0,0.6)"]}, "legend": {"title": "MSI status", "orient": "none", "legendX": 1180, "legendY": 214}}}}
 ]
}
]
}
